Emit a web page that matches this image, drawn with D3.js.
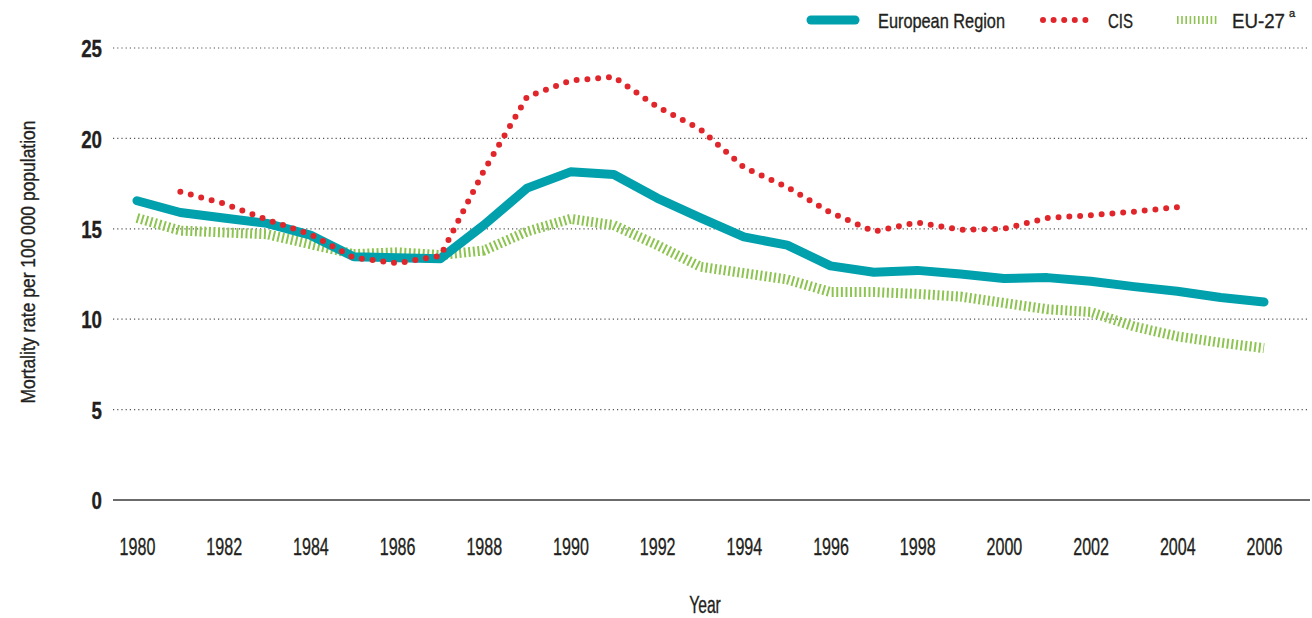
<!DOCTYPE html>
<html>
<head>
<meta charset="utf-8">
<script src="https://cdn.jsdelivr.net/npm/d3@7"></script>
<style>
  body { margin: 0; background: #fff; }
  text { font-family: "Liberation Sans", Arial, sans-serif; fill: #231f20; stroke: #231f20; stroke-width: 0.35px; }
</style>
</head>
<body>
<div id="chart"></div>
<script>
// ---------------------------------- DATA ---------------------------------- //

let years = d3.range(1980, 2007);
let europe_values = [16.55, 15.9, 15.6, 15.3, 14.65, 13.45, 13.4, 13.35, 15.2, 17.25, 18.15, 18.0, 16.7, 15.6, 14.55, 14.1, 12.95, 12.6, 12.7, 12.5, 12.25, 12.3, 12.1, 11.8, 11.55, 11.2, 10.95];
let cis_values = [null, 17.05, 16.4, 15.5, 14.7, 13.4, 13.1, 13.5, 18.2, 22.3, 23.2, 23.4, 21.75, 20.5, 18.4, 17.3, 15.9, 14.85, 15.35, 14.95, 15.0, 15.6, 15.75, 15.95, 16.2, null, null];
let eu_values = [15.6, 14.9, 14.8, 14.7, 14.15, 13.6, 13.7, 13.55, 13.8, 14.85, 15.55, 15.2, 14.1, 12.9, 12.55, 12.2, 11.5, 11.5, 11.4, 11.25, 10.9, 10.55, 10.4, 9.6, 9.05, 8.7, 8.4];
let year_ticks = d3.range(1980, 2007, 2);
let value_ticks = [0, 5, 10, 15, 20, 25];

// ---------------------------------- SETTINGS ---------------------------------- //

let img_width = 1312;
let img_height = 618;
let teal_color = '#00a0ad';
let red_color = '#e1262b';
let green_color = '#8dc451';
let grid_color = '#555';
let font = '"Liberation Sans", Arial, sans-serif';

let x = d3.scaleLinear().domain([1980, 2006]).range([137, 1264]);
let y = d3.scaleLinear().domain([0, 25]).range([500, 48]);

// squeeze regular text so it reads like the condensed face of the original
function condense(selection, factor) {
  selection.each(function() {
    let w = this.getComputedTextLength();
    d3.select(this)
      .attr('textLength', w * factor)
      .attr('lengthAdjust', 'spacingAndGlyphs');
  });
}

let svg = d3.select('#chart').append('svg')
  .attr('width', img_width)
  .attr('height', img_height);

// ---------------------------------- GRID / AXES ---------------------------------- //

svg.append('g')
  .selectAll('line')
  .data(value_ticks.filter(v => v > 0))
  .enter()
  .append('line')
  .attr('x1', 113)
  .attr('x2', 1310)
  .attr('y1', d => y(d))
  .attr('y2', d => y(d))
  .attr('stroke', grid_color)
  .attr('stroke-width', 1.2)
  .attr('stroke-dasharray', '1.2,3');

svg.append('line')
  .attr('x1', 113)
  .attr('x2', 1310)
  .attr('y1', y(0))
  .attr('y2', y(0))
  .attr('stroke', '#6b6b6b')
  .attr('stroke-width', 2);

let y_axis = svg.append('g')
  .attr('transform', 'translate(102,0)')
  .call(d3.axisLeft(y).tickValues(value_ticks).tickSize(0).tickPadding(0));
y_axis.select('.domain').remove();
y_axis.selectAll('text')
  .attr('font-family', font)
  .attr('font-size', 24)
  .attr('font-weight', 'bold')
  .attr('dy', '0.36em')
  .call(condense, 0.78);

let x_axis = svg.append('g')
  .attr('transform', `translate(0,${y(0)})`)
  .call(d3.axisBottom(x).tickValues(year_ticks).tickFormat(d3.format('d')).tickSize(0).tickPadding(0));
x_axis.select('.domain').remove();
x_axis.selectAll('text')
  .attr('font-family', font)
  .attr('font-size', 24)
  .attr('dy', null)
  .attr('y', 55)
  .call(condense, 0.67);

svg.append('text')
  .attr('x', 705)
  .attr('y', 613)
  .attr('text-anchor', 'middle')
  .attr('font-size', 23)
  .text('Year')
  .call(condense, 0.68);

svg.append('text')
  .attr('transform', 'translate(35,262) rotate(-90)')
  .attr('text-anchor', 'middle')
  .attr('font-size', 20)
  .attr('textLength', 283)
  .attr('lengthAdjust', 'spacingAndGlyphs')
  .text('Mortality rate per 100\u2009000 population');

// ---------------------------------- LINES ---------------------------------- //

let line = d3.line()
  .defined(d => d.v !== null)
  .x(d => x(d.year))
  .y(d => y(d.v));

function toPoints(values) {
  return years.map((yr, i) => ({ year: yr, v: values[i] }));
}

svg.append('path')
  .datum(toPoints(eu_values))
  .attr('d', line)
  .attr('fill', 'none')
  .attr('stroke', green_color)
  .attr('stroke-width', 10)
  .attr('stroke-dasharray', '2,2.6');

svg.append('path')
  .datum(toPoints(europe_values))
  .attr('d', line)
  .attr('fill', 'none')
  .attr('stroke', teal_color)
  .attr('stroke-width', 9)
  .attr('stroke-linejoin', 'round')
  .attr('stroke-linecap', 'round');

svg.append('path')
  .datum(toPoints(cis_values))
  .attr('d', line)
  .attr('fill', 'none')
  .attr('stroke', red_color)
  .attr('stroke-width', 6)
  .attr('stroke-linecap', 'round')
  .attr('stroke-dasharray', '0,10.8');

// ---------------------------------- LEGEND ---------------------------------- //

let legend = svg.append('g');

legend.append('line')
  .attr('x1', 811).attr('x2', 855).attr('y1', 20).attr('y2', 20)
  .attr('stroke', teal_color).attr('stroke-width', 9).attr('stroke-linecap', 'round');
legend.append('text')
  .attr('x', 878).attr('y', 28).attr('font-size', 21)
  .attr('textLength', 127).attr('lengthAdjust', 'spacingAndGlyphs')
  .text('European Region');

legend.append('line')
  .attr('x1', 1043).attr('x2', 1086).attr('y1', 20).attr('y2', 20)
  .attr('stroke', red_color).attr('stroke-width', 6).attr('stroke-linecap', 'round')
  .attr('stroke-dasharray', '0,10.6');
legend.append('text')
  .attr('x', 1108).attr('y', 28).attr('font-size', 21)
  .attr('textLength', 25).attr('lengthAdjust', 'spacingAndGlyphs')
  .text('CIS');

legend.append('line')
  .attr('x1', 1177).attr('x2', 1219).attr('y1', 20).attr('y2', 20)
  .attr('stroke', green_color).attr('stroke-width', 8).attr('stroke-dasharray', '1.6,2.6');
legend.append('text')
  .attr('x', 1232).attr('y', 28).attr('font-size', 21)
  .attr('textLength', 53).attr('lengthAdjust', 'spacingAndGlyphs')
  .text('EU-27');
legend.append('text')
  .attr('x', 1289).attr('y', 17).attr('font-size', 11)
  .text('a');
</script>
</body>
</html>
